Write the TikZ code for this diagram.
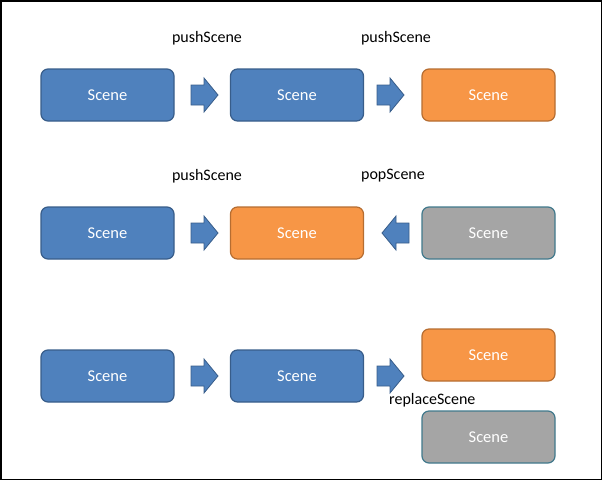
\documentclass[tikz,border=0pt]{standalone}
\usepackage{fontspec}
\setmainfont{Carlito}
\definecolor{bluefill}{HTML}{4F81BD}
\definecolor{blueline}{HTML}{385D8A}
\definecolor{orangefill}{HTML}{F79646}
\definecolor{orangeline}{HTML}{B66D31}
\definecolor{grayfill}{HTML}{A5A5A5}
\definecolor{grayline}{HTML}{41798C}
\begin{document}
\begin{tikzpicture}[x=1pt,y=-1pt,
  scenebox/.style={rounded corners=7pt,line width=1.2pt,minimum width=133pt,minimum height=52pt,
    text=white,font=\fontsize{16.5}{19}\selectfont,inner sep=0pt},
  bluebox/.style={scenebox,fill=bluefill,draw=blueline},
  orangebox/.style={scenebox,fill=orangefill,draw=orangeline},
  graybox/.style={scenebox,fill=grayfill,draw=grayline},
  lbl/.style={font=\fontsize{16}{19}\selectfont,inner sep=0pt},
  arr/.style={fill=bluefill,draw=blueline,line width=0.8pt,line join=miter}]
\draw[line width=1.5pt] (0.75,0.75) rectangle (601.25,479.25);
\useasboundingbox (0,0) rectangle (602,480);
% row 1
\node[bluebox] (a1) at (107.5,95) {Scene};
\node[bluebox] (a2) at (297,95) {Scene};
\node[orangebox] (a3) at (488.5,95) {Scene};
\node[lbl] (l1) at (207,38) {pushScene};
\node[lbl] (l2) at (396,38) {pushScene};
% row 2
\node[bluebox] (b1) at (107.5,233) {Scene};
\node[orangebox] (b2) at (297,233) {Scene};
\node[graybox] (b3) at (488.5,233) {Scene};
\node[lbl] (l3) at (207,176) {pushScene};
\node[lbl] (l4) at (393,176) {popScene};
% row 3
\node[bluebox] (c1) at (107.5,376) {Scene};
\node[bluebox] (c2) at (297,376) {Scene};
\node[orangebox] (c3) at (488.5,355) {Scene};
\node[graybox] (c4) at (488.5,437) {Scene};
\node[lbl,anchor=west] (l5) at (389,400) {replaceScene};
% arrows (right-pointing block arrows)
\foreach \x/\y in {191/95,377/95,191/233,191/376,377/376}{
  \draw[arr] (\x,\y-10) -- (\x+13,\y-10) -- (\x+13,\y-17) -- (\x+27,\y) -- (\x+13,\y+17) -- (\x+13,\y+10) -- (\x,\y+10) -- cycle;
}
% left-pointing
\draw[arr] (409,223) -- (396,223) -- (396,216) -- (382,233) -- (396,250) -- (396,243) -- (409,243) -- cycle;
\end{tikzpicture}
\end{document}
